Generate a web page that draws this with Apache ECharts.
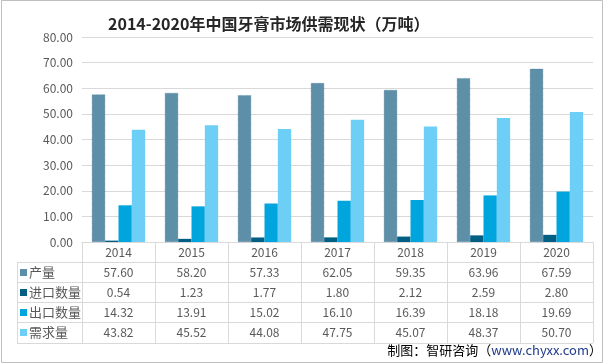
<!DOCTYPE html>
<html><head><meta charset="utf-8">
<script src="https://cdn.jsdelivr.net/npm/echarts@6/dist/echarts.min.js"></script>
<style>html,body{margin:0;padding:0;background:#fff}#c{width:605px;height:364px}</style>
</head><body><div id="c"></div>
<script>
const categories = ['2014','2015','2016','2017','2018','2019','2020'];
const seriesNames = ['产量','进口数量','出口数量','需求量'];
const production = [57.60,58.20,57.33,62.05,59.35,63.96,67.59];
const imports = [0.54,1.23,1.77,1.80,2.12,2.59,2.80];
const exports = [14.32,13.91,15.02,16.10,16.39,18.18,19.69];
const demand = [43.82,45.52,44.08,47.75,45.07,48.37,50.70];
const yTicks = [0,10,20,30,40,50,60,70,80];
const colors = ['#5E8FA8','#005F82','#00A5DD','#6DCFF6'];
const allData = [production, imports, exports, demand];

const chart = echarts.init(document.getElementById('c'), null, {renderer:'canvas'});
const FONT = 'Noto Sans CJK SC';
const option = {
  animation:false,
  backgroundColor:'#fff',
  textStyle:{fontFamily:FONT},
  title:{text:'2014-2020年中国牙膏市场供需现状（万吨）', left:103, top:11,
    textStyle:{fontSize:16, fontWeight:'bold', color:'#262626', fontFamily:FONT}},
  grid:{left:82, right:12, top:37, bottom:122, containLabel:false},
  xAxis:{type:'category', data:categories,
    axisLine:{show:true, lineStyle:{color:'#D9D9D9'}},
    axisTick:{show:false},
    axisLabel:{color:'#595959', fontSize:12, margin:4, fontFamily:FONT},
    splitLine:{show:false}},
  yAxis:{type:'value', min:yTicks[0], max:yTicks[yTicks.length-1], interval:10,
    axisLine:{show:false}, axisTick:{show:false},
    axisLabel:{color:'#595959', fontSize:12, margin:9, fontFamily:FONT, formatter:v=>v.toFixed(2)},
    splitLine:{lineStyle:{color:'#D9D9D9'}}},
  series: allData.map((d,i)=>({
    name:seriesNames[i], type:'bar', data:d, barGap:'0%', barCategoryGap:'27%',
    itemStyle:{color:colors[i], borderColor: i===0 ? '#4A7A92' : null, borderWidth: i===0?0.6:0, borderType:'dotted'}
  }))
};
chart.setOption(option);

const centers = categories.map((c,i)=>chart.convertToPixel({xAxisIndex:0}, i));
const step = centers.length>1 ? centers[1]-centers[0] : 73;
const left = centers[0]-step/2, right = centers[centers.length-1]+step/2;
const yTop = chart.convertToPixel({yAxisIndex:0}, 0);
const rowH = 20;
const headerBottom = yTop + 20;
const tableLeft = 17;
const tableBottom = headerBottom + rowH*4 + 1;
const lc = '#D9D9D9';
const g = [];
for (let i=0;i<=categories.length;i++){
  const x = Math.round(left + step*i)+0.5;
  g.push({type:'line', shape:{x1:x,y1:yTop,x2:x,y2:tableBottom}, style:{stroke:lc,lineWidth:1}, silent:true});
}
const xl = tableLeft+0.5;
g.push({type:'line', shape:{x1:xl,y1:headerBottom,x2:xl,y2:tableBottom}, style:{stroke:lc,lineWidth:1}});
for (let r=0;r<=4;r++){
  const y = Math.round(r===4 ? tableBottom : headerBottom + rowH*r)+0.5;
  g.push({type:'line', shape:{x1:tableLeft,y1:y,x2:right,y2:y}, style:{stroke:lc,lineWidth:1}});
}
for (let r=0;r<4;r++){
  const yc = headerBottom + rowH*r + rowH/2 + 0.5;
  g.push({type:'rect', shape:{x:tableLeft+3, y:yc-3.5, width:7, height:7}, style:{fill:colors[r]}});
  g.push({type:'text', x:tableLeft+12, y:yc, style:{text:seriesNames[r], fill:'#595959', fontSize:13, fontFamily:FONT, verticalAlign:'middle', align:'left'}});
  for (let i=0;i<categories.length;i++){
    g.push({type:'text', x:centers[i], y:yc, style:{text:allData[r][i].toFixed(2), fill:'#595959', fontSize:12, fontFamily:FONT, align:'center', verticalAlign:'middle'}});
  }
}
g.push({type:'text', right:3, top:344, style:{rich:{a:{fontSize:13,fill:'#000',fontFamily:FONT},b:{fontSize:13,fill:'#1F3A8C',fontFamily:FONT}}, text:'{a|制图：智研咨询（}{b|www.chyxx.com}{a|）}'}});
g.push({type:'rect', shape:{x:1.5,y:0.5,width:601,height:362}, style:{fill:null, stroke:'#BFBFBF', lineWidth:1}});
chart.setOption({graphic:{elements:g}});
</script></body></html>
